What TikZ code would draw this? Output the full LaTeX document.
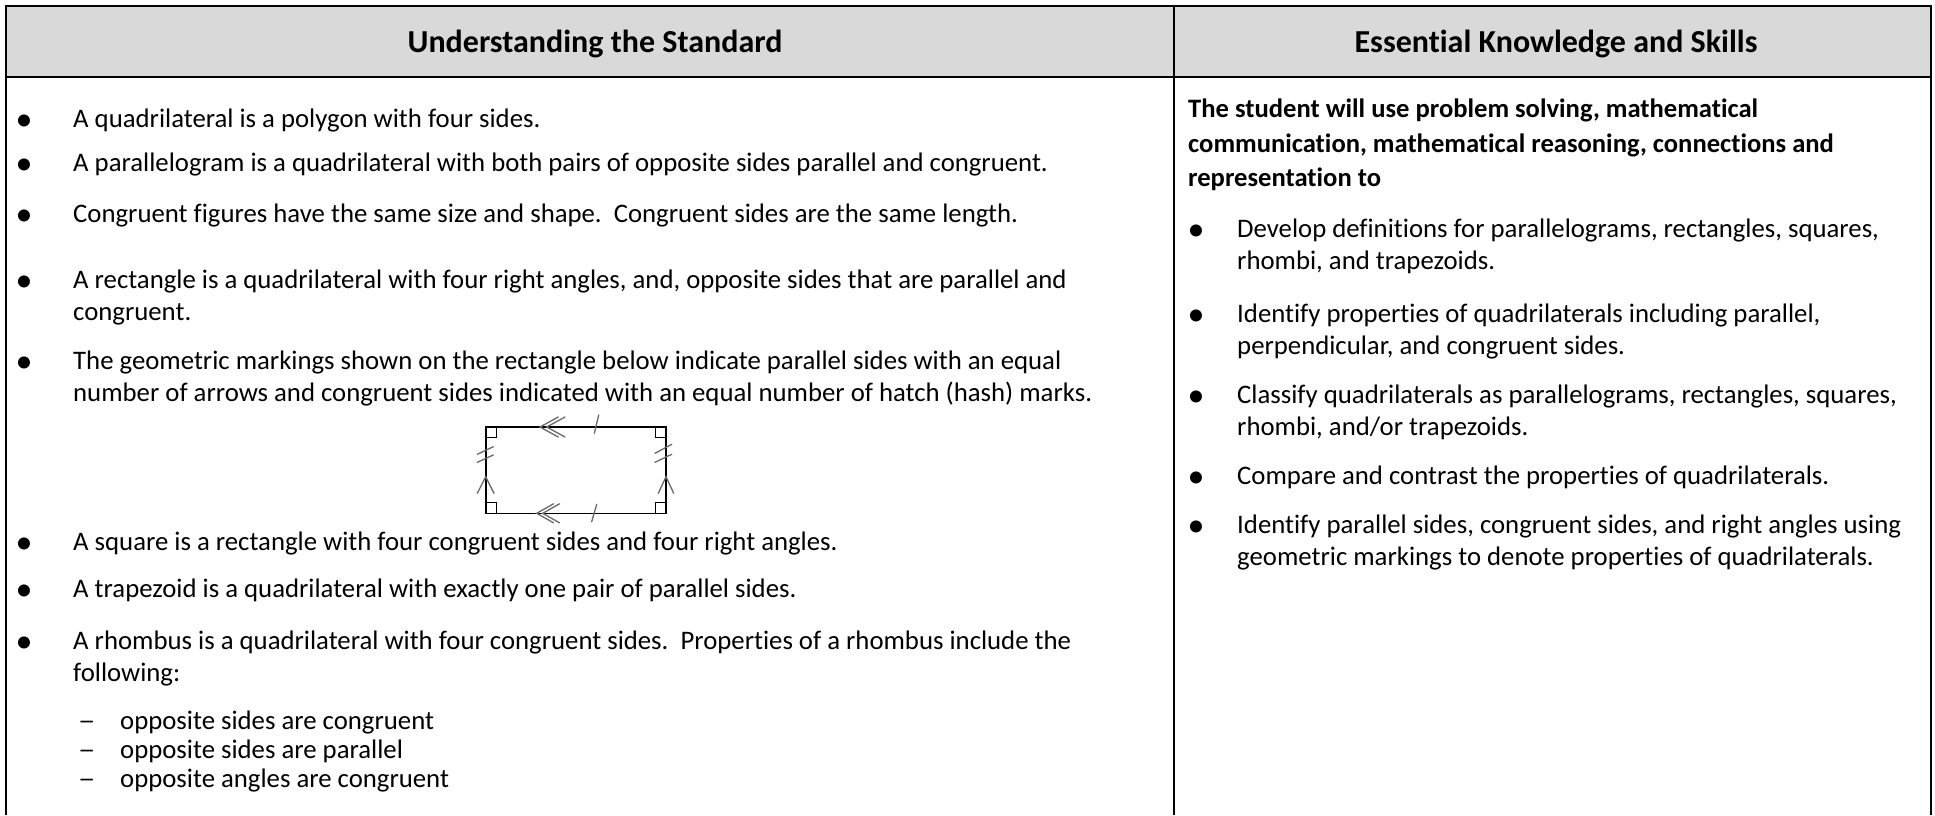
\documentclass[tikz,border=0pt]{standalone}
\usepackage{fontspec}
\setmainfont{Carlito}[Ligatures=CommonOff]
\definecolor{hdrgray}{RGB}{217,217,217}
\definecolor{markgray}{RGB}{105,105,105}
\tikzset{
  rule/.style={line width=2pt, black},
  txt/.style={anchor=base west, inner sep=0pt, font=\fontsize{26.75}{30}\selectfont},
  btxt/.style={txt, font=\fontsize{26.6}{30}\selectfont\bfseries},
  hfont/.style={anchor=base, inner sep=0pt, font=\fontsize{32}{36}\selectfont\bfseries},
  bul/.style={anchor=base, inner sep=0pt, font=\fontsize{34}{34}\selectfont},
  dsh/.style={anchor=base west, inner sep=0pt, font=\fontsize{26.75}{30}\selectfont},
  figline/.style={line width=1.6pt, black},
  corner/.style={line width=1pt, black},
  gmark/.style={line width=1.3pt, markgray, line cap=round}
}
\begin{document}
\begin{tikzpicture}[x=1pt,y=-1pt]
\useasboundingbox (0,0) rectangle (1935,815);
% header band and table rules
\fill[hdrgray] (6,6) rectangle (1931,77);
\draw[rule] (6,815) -- (6,6) -- (1931,6) -- (1931,815);
\draw[rule] (6,77) -- (1931,77);
\draw[rule] (1174,6) -- (1174,815);
% headers
\node[hfont] (h1) at (595,52) {Understanding the Standard};
\node[hfont] (h2) at (1556,52) {Essential Knowledge and Skills};
% left column
\node[bul] (lb1) at (24,130) {•};
\node[txt] (l1) at (73,127) {A quadrilateral is a polygon with four sides.};
\node[bul] (lb2) at (24,174) {•};
\node[txt] (l2) at (73,171) {A parallelogram is a quadrilateral with both pairs of opposite sides parallel and congruent.};
\node[bul] (lb3) at (24,225) {•};
\node[txt] (l3) at (73,222) {Congruent figures have the same size and shape.\ \ Congruent sides are the same length.};
\node[bul] (lb4) at (24,291) {•};
\node[txt] (l4a) at (73,288) {A rectangle is a quadrilateral with four right angles, and, opposite sides that are parallel and};
\node[txt] (l4b) at (73,320) {congruent.};
\node[bul] (lb5) at (24,372) {•};
\node[txt] (l5a) at (73,369) {The geometric markings shown on the rectangle below indicate parallel sides with an equal};
\node[txt] (l5b) at (73,401) {number of arrows and congruent sides indicated with an equal number of hatch (hash) marks.};
\node[bul] (lb6) at (24,553) {•};
\node[txt] (l6) at (73,550) {A square is a rectangle with four congruent sides and four right angles.};
\node[bul] (lb7) at (24,600) {•};
\node[txt] (l7) at (73,597) {A trapezoid is a quadrilateral with exactly one pair of parallel sides.};
\node[bul] (lb8) at (24,652) {•};
\node[txt] (l8a) at (73,649) {A rhombus is a quadrilateral with four congruent sides.\ \ Properties of a rhombus include the};
\node[txt] (l8b) at (73,681) {following:};
\node[dsh] (d1) at (78,729) {\scalebox{1.3}[1]{–}};
\node[txt] (s1) at (120,729) {opposite sides are congruent};
\node[dsh] (d2) at (78,758) {\scalebox{1.3}[1]{–}};
\node[txt] (s2) at (120,758) {opposite sides are parallel};
\node[dsh] (d3) at (78,787) {\scalebox{1.3}[1]{–}};
\node[txt] (s3) at (120,787) {opposite angles are congruent};
% rectangle figure
\draw[figline] (485.7,426.7) rectangle (666,513.3);
\draw[corner] (485.7,437.7) -- (496.7,437.7) -- (496.7,426.7);
\draw[corner] (666,437.7) -- (655,437.7) -- (655,426.7);
\draw[corner] (485.7,502.3) -- (496.7,502.3) -- (496.7,513.3);
\draw[corner] (666,502.3) -- (655,502.3) -- (655,513.3);
% parallel arrows
\draw[gmark] (558.3,417) -- (540,427) -- (558.3,437);
\draw[gmark] (565,417) -- (546.7,427) -- (565,437);
\draw[gmark] (553.5,503.8) -- (536.7,513.3) -- (553.5,522.8);
\draw[gmark] (559.5,503.8) -- (542.7,513.3) -- (559.5,522.8);
\draw[gmark] (477.3,493.3) -- (485.7,476.7) -- (494,493.3);
\draw[gmark] (658.3,493.3) -- (666,476.7) -- (673.7,493.3);
% hatch marks
\draw[gmark] (594.3,433.3) -- (598.7,415);
\draw[gmark] (591.7,521.7) -- (596.7,504.3);
\draw[gmark] (477.3,454.3) -- (493.3,446.7);
\draw[gmark] (477.3,462.3) -- (493.3,455);
\draw[gmark] (655,453.3) -- (671.7,444.3);
\draw[gmark] (655,462.3) -- (671.7,454.3);
% right column
\node[btxt] (r0a) at (1188,117) {The student will use problem solving, mathematical};
\node[btxt] (r0b) at (1188,152) {communication, mathematical reasoning, connections and};
\node[btxt] (r0c) at (1188,186) {representation to};
\node[bul] (rb1) at (1196,240) {•};
\node[txt] (r1a) at (1237,237) {Develop definitions for parallelograms, rectangles, squares,};
\node[txt] (r1b) at (1237,269) {rhombi, and trapezoids.};
\node[bul] (rb2) at (1196,325) {•};
\node[txt] (r2a) at (1237,322) {Identify properties of quadrilaterals including parallel,};
\node[txt] (r2b) at (1237,354) {perpendicular, and congruent sides.};
\node[bul] (rb3) at (1196,406) {•};
\node[txt] (r3a) at (1237,403) {Classify quadrilaterals as parallelograms, rectangles, squares,};
\node[txt] (r3b) at (1237,435) {rhombi, and/or trapezoids.};
\node[bul] (rb4) at (1196,487) {•};
\node[txt] (r4) at (1237,484) {Compare and contrast the properties of quadrilaterals.};
\node[bul] (rb5) at (1196,536) {•};
\node[txt] (r5a) at (1237,533) {Identify parallel sides, congruent sides, and right angles using};
\node[txt] (r5b) at (1237,565) {geometric markings to denote properties of quadrilaterals.};
\end{tikzpicture}
\end{document}
